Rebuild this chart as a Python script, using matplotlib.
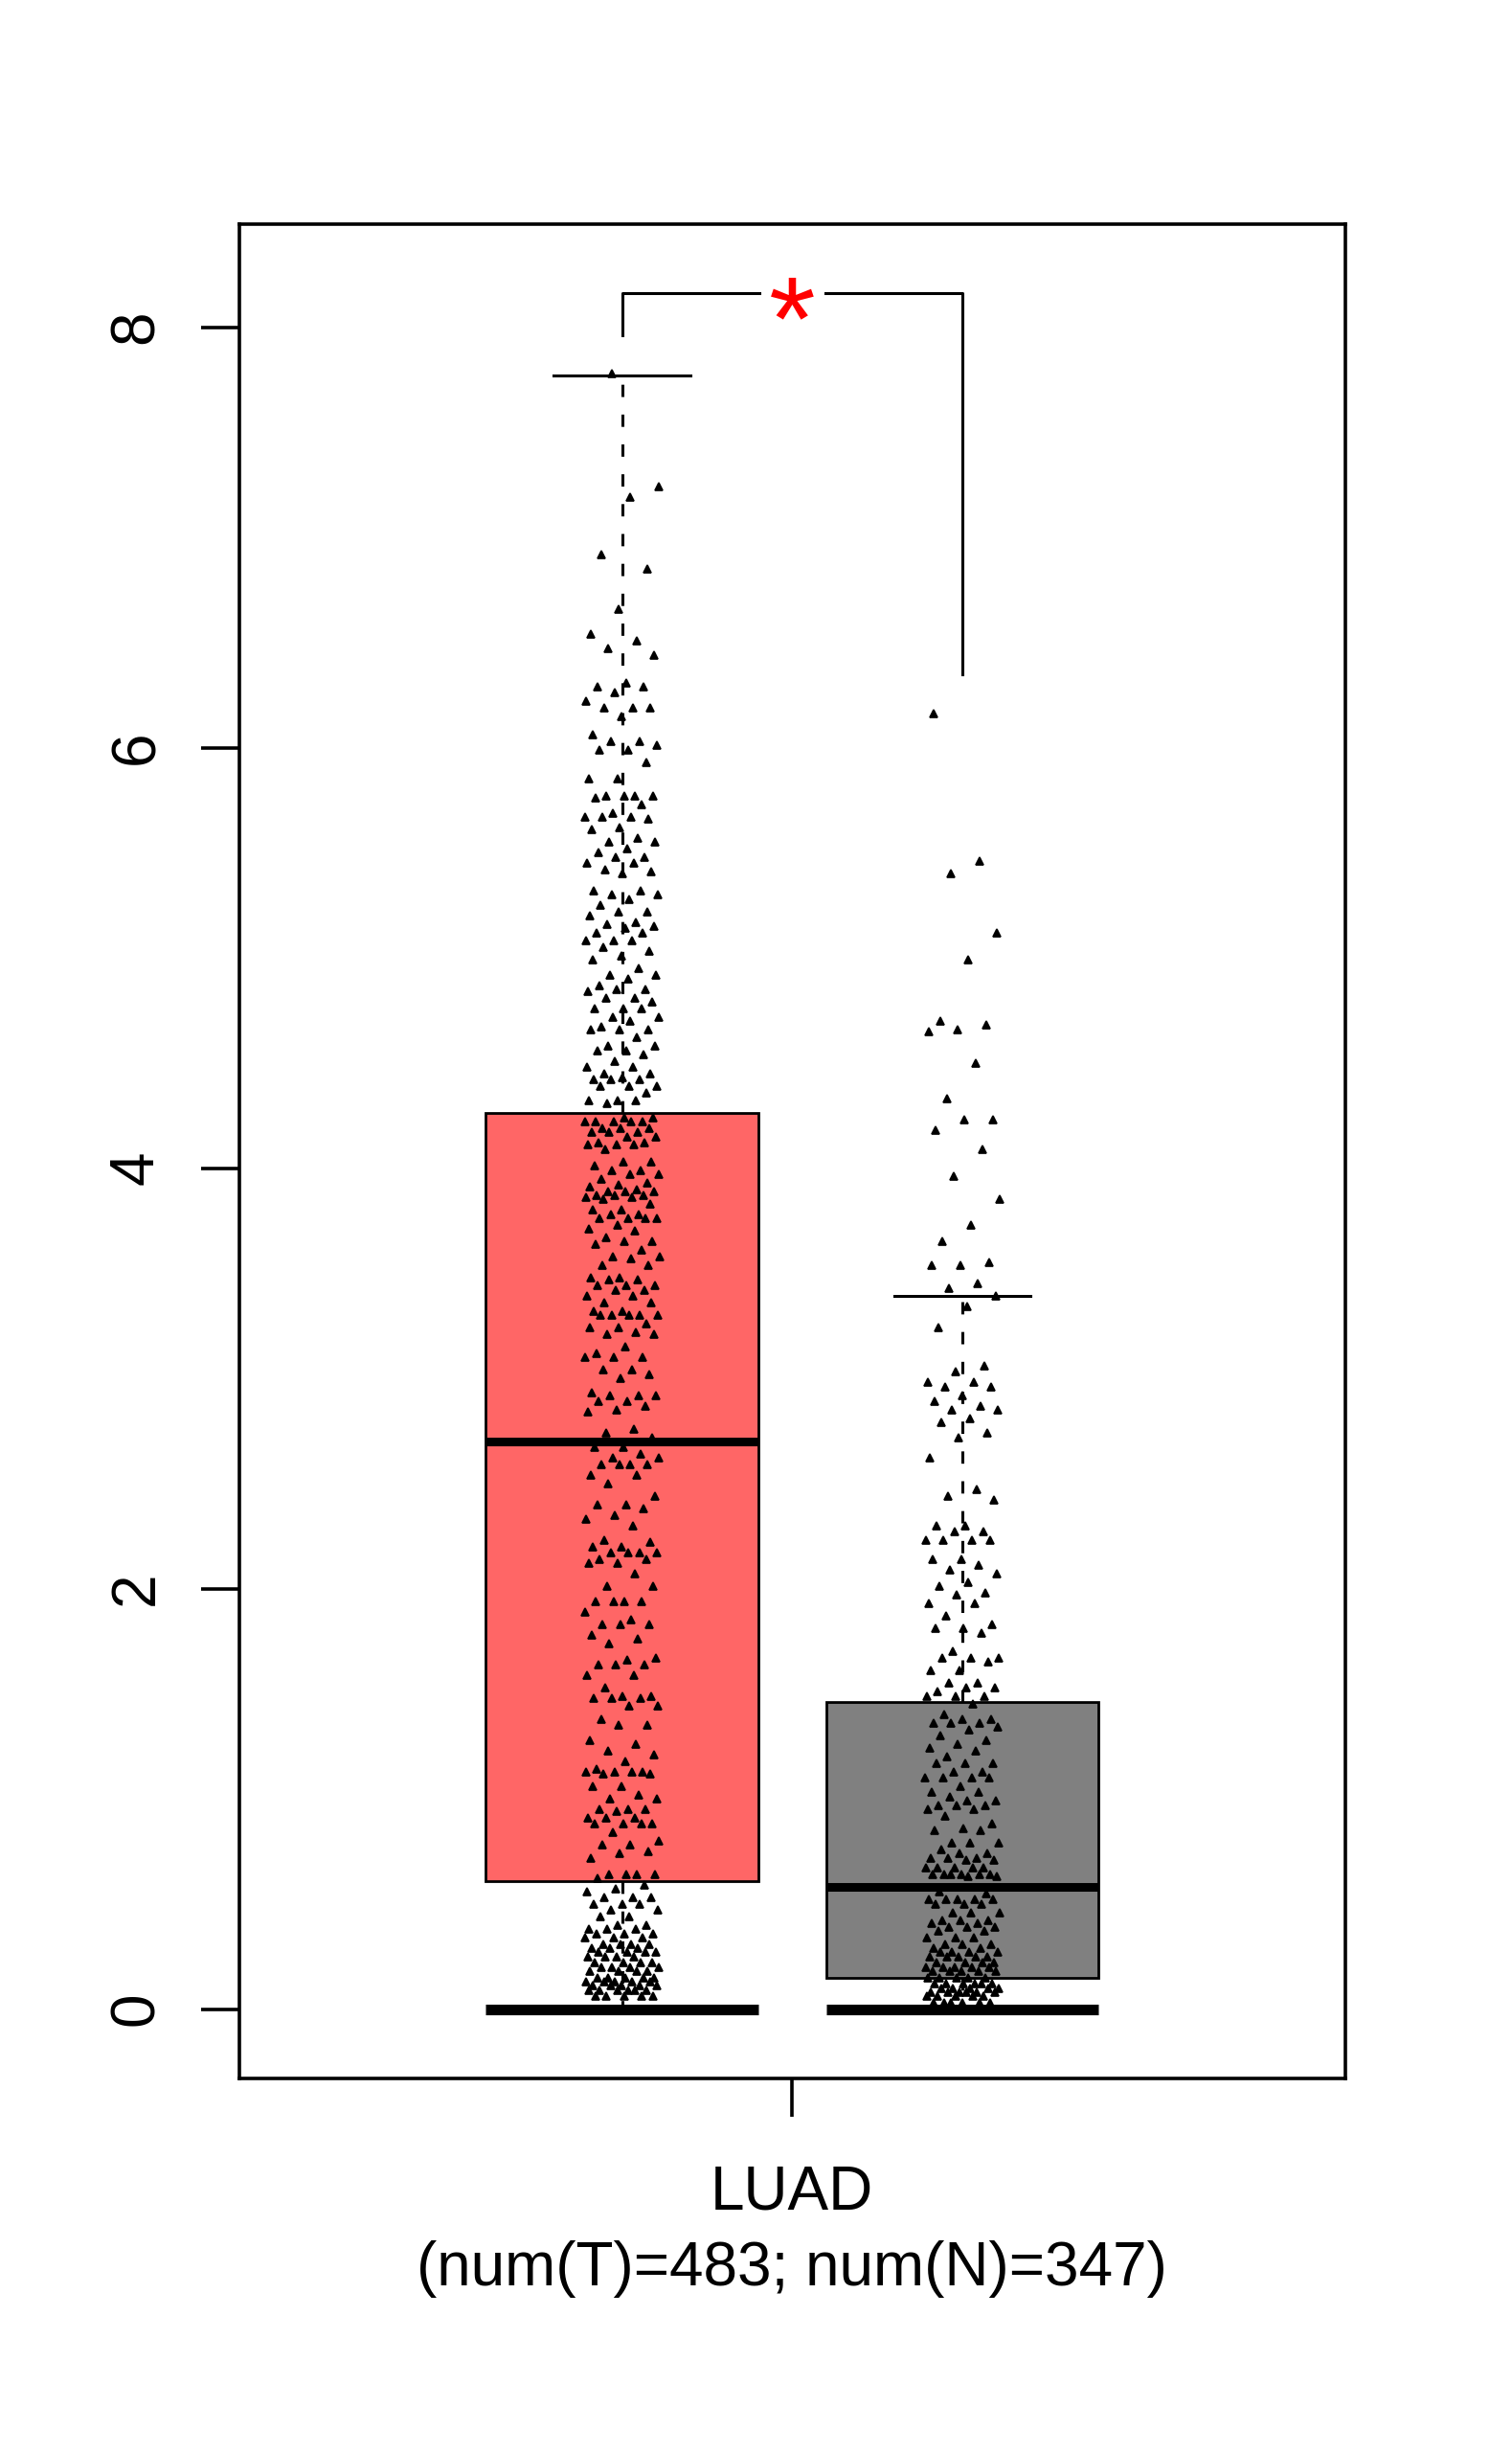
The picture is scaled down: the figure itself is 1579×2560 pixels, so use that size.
import matplotlib
matplotlib.use('Agg')
import matplotlib.pyplot as plt
import numpy as np

plt.rcParams['font.family'] = ['Liberation Sans', 'DejaVu Sans']

# ---- data ----
cancer = 'LUAD'
n_tumor = 483
n_normal = 347

tumor_box = dict(q1=0.61, med=2.70, q3=4.26, whislo=0.0, whishi=7.77)
normal_box = dict(q1=0.15, med=0.58, q3=1.46, whislo=0.0, whishi=3.39)

# non-zero expression values (log2(TPM+1)), the rest of each group sits at 0
tumor_points = [
    7.78, 7.24, 7.19, 6.92, 6.85, 6.66, 6.54, 6.51, 6.47, 6.44, 6.31, 6.29, 6.29, 6.26,
    6.22, 6.19, 6.19, 6.19, 6.15, 6.06, 6.03, 6.03, 6.01, 5.99, 5.99, 5.93, 5.85, 5.85,
    5.77, 5.77, 5.77, 5.77, 5.76, 5.73, 5.69, 5.67, 5.67, 5.67, 5.66, 5.62, 5.61, 5.57,
    5.55, 5.55, 5.52, 5.50, 5.48, 5.48, 5.45, 5.45, 5.42, 5.41, 5.40, 5.32, 5.32, 5.30,
    5.30, 5.28, 5.25, 5.22, 5.22, 5.20, 5.17, 5.16, 5.15, 5.14, 5.12, 5.12, 5.08, 5.08,
    5.08, 5.05, 5.03, 5.01, 4.99, 4.95, 4.92, 4.92, 4.90, 4.87, 4.85, 4.85, 4.84, 4.81,
    4.81, 4.79, 4.76, 4.76, 4.76, 4.72, 4.72, 4.70, 4.67, 4.66, 4.66, 4.66, 4.62, 4.58,
    4.58, 4.56, 4.56, 4.54, 4.51, 4.48, 4.48, 4.45, 4.45, 4.43, 4.42, 4.42, 4.42, 4.39,
    4.39, 4.39, 4.36, 4.32, 4.32, 4.32, 4.31, 4.24, 4.24, 4.22, 4.22, 4.22, 4.22, 4.22,
    4.19, 4.19, 4.19, 4.17, 4.17, 4.17, 4.15, 4.15, 4.12, 4.12,
    4.11, 4.11, 4.11, 4.09, 4.03, 4.03, 4.01, 3.99, 3.99, 3.97, 3.97, 3.95, 3.93, 3.92,
    3.91, 3.90, 3.89, 3.89, 3.89, 3.87, 3.87, 3.87, 3.86, 3.86, 3.85, 3.83, 3.80, 3.80,
    3.78, 3.78, 3.76, 3.76, 3.76, 3.76, 3.73, 3.71, 3.70, 3.67, 3.65, 3.65, 3.64, 3.61,
    3.58, 3.58, 3.57, 3.54, 3.54, 3.48, 3.48, 3.47, 3.47, 3.44, 3.44, 3.44, 3.42, 3.42,
    3.39, 3.39, 3.36, 3.36, 3.32, 3.32, 3.30, 3.30, 3.30, 3.30, 3.30, 3.26, 3.24, 3.24,
    3.22, 3.21, 3.21, 3.15, 3.12, 3.10, 3.10, 3.10, 3.04, 3.04, 3.02, 3.00, 2.93, 2.92,
    2.92, 2.92, 2.89, 2.89, 2.87, 2.85, 2.84, 2.76, 2.74, 2.72, 2.67, 2.67, 2.64, 2.62,
    2.62, 2.59, 2.59, 2.59, 2.59, 2.54, 2.54, 2.50, 2.44, 2.40, 2.40, 2.38, 2.35, 2.33,
    2.30, 2.23, 2.22, 2.20, 2.20, 2.17, 2.17, 2.17, 2.17, 2.14, 2.14, 2.12, 2.12,
    2.07, 2.01, 2.01, 1.94, 1.94, 1.94, 1.94, 1.89, 1.85, 1.83, 1.83, 1.83, 1.78, 1.76,
    1.74, 1.67, 1.66, 1.64, 1.64, 1.64, 1.59, 1.59, 1.53, 1.49, 1.49, 1.48, 1.48, 1.48,
    1.44, 1.44, 1.38, 1.35, 1.35, 1.28, 1.26, 1.23, 1.21, 1.18, 1.14, 1.13, 1.13, 1.13,
    1.13, 1.12, 1.12, 1.06, 1.06, 1.02, 1.00, 1.00, 0.95, 0.95, 0.95, 0.94, 0.91, 0.91,
    0.91, 0.88, 0.88, 0.88, 0.88, 0.84, 0.80, 0.78, 0.78, 0.75, 0.74, 0.72, 0.64, 0.64,
    0.64, 0.64, 0.62, 0.59, 0.57, 0.56, 0.53, 0.53, 0.53, 0.50, 0.50, 0.50, 0.47, 0.47,
    0.44, 0.44, 0.40, 0.40, 0.38, 0.38, 0.38, 0.36, 0.36, 0.36, 0.34, 0.34, 0.34, 0.31,
    0.31, 0.31, 0.31, 0.29, 0.29, 0.29, 0.27, 0.27, 0.27, 0.27, 0.25, 0.25, 0.25, 0.25,
    0.22, 0.22, 0.22, 0.22, 0.20, 0.20, 0.20, 0.20, 0.18, 0.18, 0.18, 0.18, 0.15, 0.15,
    0.15, 0.15, 0.15, 0.13, 0.13, 0.13, 0.13, 0.13, 0.11, 0.11, 0.11, 0.11, 0.11, 0.09,
    0.09, 0.09, 0.09, 0.09, 0.09, 0.06, 0.06, 0.06, 0.06, 0.06,
]

normal_points = [
    6.16, 5.46, 5.40, 5.12, 4.99, 4.70, 4.68, 4.66, 4.65, 4.50, 4.33, 4.23, 4.23, 4.18,
    4.09, 3.96, 3.85, 3.73, 3.65, 3.55, 3.54, 3.54, 3.45, 3.43, 3.39, 3.34, 3.24,
    3.06, 3.03, 2.98, 2.98, 2.96, 2.96, 2.92, 2.89, 2.87, 2.85, 2.85, 2.81, 2.79, 2.74,
    2.72, 2.62, 2.47, 2.44, 2.42, 2.30, 2.30, 2.27, 2.27, 2.23, 2.23, 2.23, 2.23, 2.14,
    2.14, 2.11, 2.09, 2.07, 2.03, 2.01, 1.98, 1.97, 1.93, 1.93, 1.87, 1.83, 1.81, 1.81,
    1.79, 1.70, 1.67, 1.67, 1.67, 1.65, 1.61, 1.61,
    1.55, 1.55, 1.53, 1.53, 1.51, 1.49, 1.49, 1.49, 1.45, 1.40, 1.38, 1.38, 1.36, 1.36,
    1.36, 1.34, 1.33, 1.30, 1.28, 1.26, 1.24, 1.23, 1.20, 1.17, 1.17, 1.17, 1.13, 1.13,
    1.10, 1.10, 1.10, 1.10, 1.06, 1.03, 1.03, 1.01, 0.99, 0.99, 0.97, 0.97, 0.97, 0.95,
    0.95, 0.92, 0.88, 0.86, 0.85, 0.85, 0.79, 0.79, 0.79, 0.76, 0.74, 0.74, 0.72, 0.72,
    0.72, 0.71, 0.71, 0.67, 0.67, 0.67, 0.67, 0.67, 0.64, 0.64, 0.64, 0.64, 0.64, 0.64,
    0.63, 0.63, 0.56, 0.55, 0.52, 0.52, 0.52, 0.52, 0.52, 0.50, 0.50, 0.50, 0.46, 0.46,
    0.46, 0.42, 0.42, 0.42, 0.41, 0.41, 0.39, 0.39, 0.39, 0.37, 0.37, 0.34, 0.34, 0.34,
    0.31, 0.31, 0.31, 0.29, 0.29, 0.27, 0.27, 0.27, 0.27, 0.25, 0.25, 0.25, 0.25, 0.25,
    0.22, 0.22, 0.22, 0.22, 0.20, 0.20, 0.20, 0.20, 0.20, 0.18, 0.18, 0.18, 0.18, 0.18,
    0.15, 0.15, 0.15, 0.15, 0.15, 0.12, 0.12, 0.12, 0.12, 0.12, 0.12, 0.10, 0.10, 0.10,
    0.10, 0.10, 0.08, 0.08, 0.08, 0.08, 0.08, 0.08, 0.06, 0.06, 0.06, 0.06, 0.06, 0.03,
    0.03, 0.03, 0.03, 0.03, 0.03,
]

# significance bracket
bracket_top = 8.16
bracket_left_end = 7.96
bracket_right_end = 6.35
signif_label = '*'

tumor_color = '#FF6666'
normal_color = '#808080'

tumor_all = np.array(tumor_points + [0.0] * (n_tumor - len(tumor_points)))
normal_all = np.array(normal_points + [0.0] * (n_normal - len(normal_points)))


def jitter(n, center, amount=0.11, seed_shift=0.0):
    # deterministic spread (golden ratio sequence) instead of random jitter
    k = np.arange(n)
    frac = (k * 0.6180339887 + seed_shift) % 1.0
    return center + (2 * frac - 1) * amount


fig = plt.figure(figsize=(15.79, 25.6), dpi=100)
ax = fig.add_axes([250 / 1579, 1 - 2170 / 2560, 1155 / 1579, (2170 - 234) / 2560])

stats = [dict(tumor_box, fliers=[], label=''), dict(normal_box, fliers=[], label='')]
bp = ax.bxp(stats, positions=[1, 2], widths=0.8, capwidths=0.4, patch_artist=True,
            showfliers=False, manage_ticks=False,
            boxprops=dict(linewidth=2, edgecolor='black', zorder=1),
            whiskerprops=dict(linewidth=2.2, linestyle=(0, (4.2, 6)), color='black', zorder=1),
            capprops=dict(linewidth=2.2, color='black', zorder=1),
            medianprops=dict(linewidth=6.5, color='black', solid_capstyle='butt', zorder=4))
for patch, col in zip(bp['boxes'], [tumor_color, normal_color]):
    patch.set_facecolor(col)

# jittered points
ax.plot(jitter(n_tumor, 1, seed_shift=0.37), tumor_all, linestyle='none', marker='^',
        markersize=5.5, markeredgewidth=1.2, color='black', zorder=3)
ax.plot(jitter(n_normal, 2, seed_shift=0.11), normal_all, linestyle='none', marker='^',
        markersize=5.5, markeredgewidth=1.2, color='black', zorder=3)

# thick line at the minimum
ax.hlines([tumor_box['whislo'], normal_box['whislo']], [0.6, 1.6], [1.4, 2.4],
          color='black', linewidth=8, zorder=4)

# significance bracket
gap = 0.097
ax.plot([1, 1, 1.5 - gap], [bracket_left_end, bracket_top, bracket_top],
        color='black', linewidth=2.2)
ax.plot([1.5 + gap, 2, 2], [bracket_top, bracket_top, bracket_right_end],
        color='black', linewidth=2.2)
star_size = 90
ax.annotate(signif_label, xy=(1.5, bracket_top), xytext=(0, -0.55 * star_size),
            textcoords='offset points', ha='center', va='baseline',
            fontsize=star_size, color='red')

ax.set_xlim(-0.124, 3.125)
ax.set_ylim(-0.33, 8.49)

ax.set_yticks([0, 2, 4, 6, 8])
ax.tick_params(axis='y', length=28.5, width=2.6, labelsize=46, pad=27, labelrotation=90)
for lbl in ax.get_yticklabels():
    lbl.set_va('center')
ax.set_xticks([1.5])
ax.set_xticklabels([''])
ax.tick_params(axis='x', length=28.5, width=2.6)
for sp in ax.spines.values():
    sp.set_linewidth(2.6)

ax.annotate(cancer, xy=(1.5, 0), xycoords=('data', 'axes fraction'),
            xytext=(0, -98.6), textcoords='offset points',
            ha='center', va='baseline', fontsize=46)
ax.annotate(f'(num(T)={n_tumor}; num(N)={n_normal})', xy=(1.5, 0),
            xycoords=('data', 'axes fraction'), xytext=(0, -155.5),
            textcoords='offset points', ha='center', va='baseline', fontsize=46)

fig.savefig('out.png', dpi=100)
